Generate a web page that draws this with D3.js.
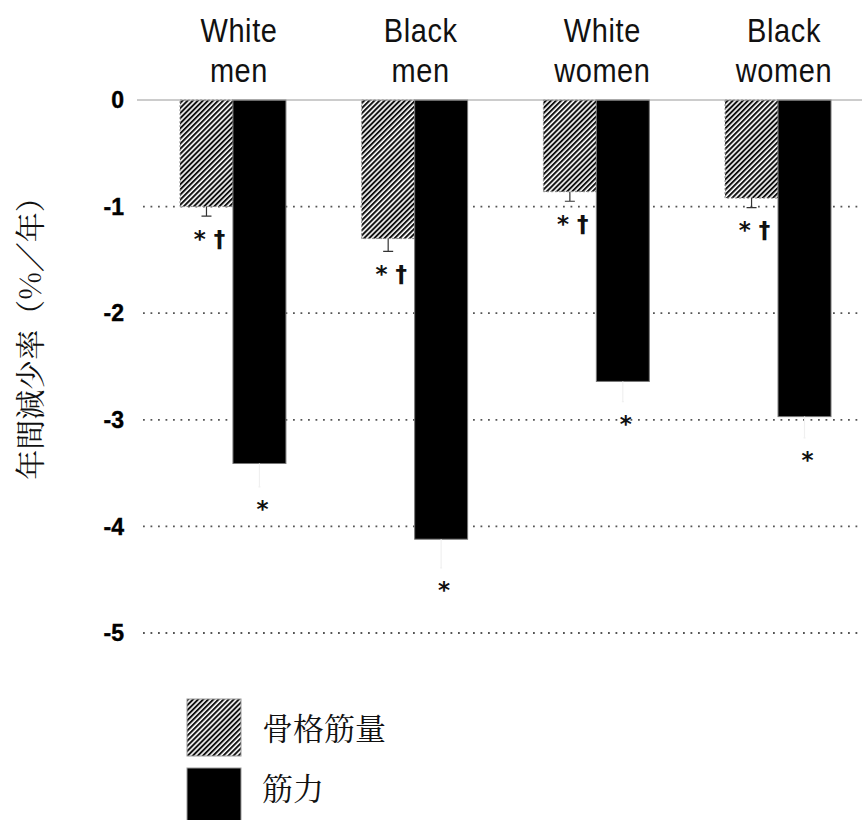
<!DOCTYPE html>
<head>
    <meta charset="utf-8">
    <title>年間減少率</title>
    <script src="https://cdn.jsdelivr.net/npm/d3@7"></script>
    <style>
        body { margin: 0; background: #fff; }
        svg { display: block; }
    </style>
</head>
<body>
<div id="container"></div>

<script>

// Données (% par an)
const groupes = [["White", "men"], ["Black", "men"], ["White", "women"], ["Black", "women"]];
const series = ["骨格筋量", "筋力"];
const masseMusc = [-1.00, -1.30, -0.86, -0.92];
const masseMuscErr = [0.09, 0.12, 0.09, 0.09];
const force = [-3.41, -4.12, -2.64, -2.97];
const forceErr = [0.22, 0.27, 0.19, 0.20];
const notesMasse = ["* †", "* †", "* †", "* †"];
const notesForce = ["*", "*", "*", "*"];
const yTicks = [0, -1, -2, -3, -4, -5];

const width = 862;
const height = 820;

const svg = d3.select("#container")
              .append("svg")
              .attr("width", width)
              .attr("height", height);

// Motif hachuré pour la masse musculaire
const defs = svg.append("defs");
defs.append("pattern")
    .attr("id", "hachures")
    .attr("patternUnits", "userSpaceOnUse")
    .attr("width", 3.6)
    .attr("height", 3.6)
    .attr("patternTransform", "rotate(45)")
    .call(p => {
        p.append("rect").attr("width", 3.6).attr("height", 3.6).attr("fill", "#fff");
        p.append("line")
         .attr("x1", 1).attr("y1", 0).attr("x2", 1).attr("y2", 3.6)
         .attr("stroke", "#111").attr("stroke-width", 2);
    });

const data = groupes.map((g, i) => ({
    nom: g.join(" "),
    lignes: g,
    valeurs: [
        { serie: series[0], v: masseMusc[i], err: masseMuscErr[i], note: notesMasse[i] },
        { serie: series[1], v: force[i], err: forceErr[i], note: notesForce[i] }
    ]
}));

// Échelles
const x0 = d3.scaleBand()
             .domain(data.map(d => d.nom))
             .range([180, 831])
             .paddingInner(0.417)
             .paddingOuter(0);

const x1 = d3.scaleBand()
             .domain(series)
             .range([0, x0.bandwidth()])
             .padding(0);

const y = d3.scaleLinear()
            .domain([-5, 0])
            .range([633, 100]);

// Lignes de grille pointillées
svg.append("g")
   .selectAll("line")
   .data(yTicks.filter(t => t !== 0))
   .enter().append("line")
   .attr("x1", 143).attr("x2", width)
   .attr("y1", d => y(d)).attr("y2", d => y(d))
   .attr("stroke", "#555")
   .attr("stroke-width", 1.8)
   .attr("stroke-dasharray", "1.8,5.7");

// Étiquettes de l'axe y
svg.append("g")
   .selectAll("text")
   .data(yTicks)
   .enter().append("text")
   .attr("x", 124)
   .attr("y", d => y(d))
   .attr("dy", "0.36em")
   .attr("text-anchor", "end")
   .attr("font-family", "'Liberation Sans', Arial, sans-serif")
   .attr("font-weight", "bold")
   .attr("font-size", 23)
   .attr("stroke", "#000")
   .attr("stroke-width", 0.4)
   .text(d => d);

// Titre de l'axe y
svg.append("text")
   .attr("transform", "translate(30,331) rotate(-90)")
   .attr("text-anchor", "middle")
   .attr("dy", "0.35em")
   .attr("font-family", "'Noto Serif CJK JP', 'Noto Sans CJK JP', serif")
   .attr("font-size", 30)
   .attr("fill", "#111")
   .text("年間減少率（%／年）");

// Barres
const grp = svg.append("g")
               .selectAll(".groupe")
               .data(data)
               .enter().append("g")
               .attr("class", "groupe")
               .attr("transform", d => `translate(${x0(d.nom)},0)`);

grp.selectAll("rect")
   .data(d => d.valeurs)
   .enter().append("rect")
   .attr("x", d => x1(d.serie))
   .attr("y", y(0))
   .attr("width", x1.bandwidth())
   .attr("height", d => y(d.v) - y(0))
   .attr("fill", (d, i) => i === 0 ? "url(#hachures)" : "#000")
   .attr("stroke", (d, i) => i === 0 ? "#888" : "#777")
   .attr("stroke-width", 1)
   .attr("stroke-dasharray", (d, i) => i === 0 ? "2,2" : null);

// Barres d'erreur (celles de la force sont presque invisibles)
grp.selectAll(".err")
   .data(d => d.valeurs)
   .enter().append("path")
   .attr("class", "err")
   .attr("fill", "none")
   .attr("stroke", (d, i) => i === 0 ? "#333" : "#f0f0f0")
   .attr("stroke-width", 1.2)
   .attr("d", (d, i) => {
       const cx = x1(d.serie) + x1.bandwidth() / 2;
       const cap = i === 0 ? 5 : 1;
       return `M${cx},${y(d.v)}V${y(d.v - d.err)}M${cx - cap},${y(d.v - d.err)}H${cx + cap}`;
   });

// Marques de significativité
grp.selectAll(".note")
   .data(d => d.valeurs)
   .enter().append("text")
   .attr("class", "note")
   .attr("x", d => x1(d.serie) + x1.bandwidth() / 2 + 3)
   .attr("y", d => y(d.v - d.err) + 20)
   .attr("dy", "0.45em")
   .attr("text-anchor", "middle")
   .attr("font-family", "'DejaVu Sans', sans-serif")
   .attr("font-weight", "bold")
   .attr("font-size", 23)
   .attr("fill", "#111")
   .text(d => d.note);

// Ligne du zéro
svg.append("line")
   .attr("x1", 137).attr("x2", width)
   .attr("y1", y(0)).attr("y2", y(0))
   .attr("stroke", "#999")
   .attr("stroke-width", 1.2);

// Noms des groupes en haut
const lab = svg.append("g")
               .selectAll("text")
               .data(data)
               .enter().append("text")
               .attr("transform", d => `translate(${x0(d.nom) + x0.bandwidth() / 2 + 6},0) scale(1,1.12)`)
               .attr("text-anchor", "middle")
               .attr("font-family", "Arimo, 'Liberation Sans', Arial, sans-serif")
               .attr("font-size", 29)
               .attr("letter-spacing", 0.6)
               .attr("fill", "#111");
lab.selectAll("tspan")
   .data(d => d.lignes)
   .enter().append("tspan")
   .attr("x", 0)
   .attr("y", (d, i) => i === 0 ? 37.5 : 73)
   .text(d => d);

// Légende
const leg = svg.append("g")
               .selectAll("g")
               .data(series)
               .enter().append("g")
               .attr("transform", (d, i) => `translate(187,${699 + i * 69})`);

leg.append("rect")
   .attr("width", 54)
   .attr("height", 57)
   .attr("fill", (d, i) => i === 0 ? "url(#hachures)" : "#000")
   .attr("stroke", "#999")
   .attr("stroke-width", 1);

leg.append("text")
   .attr("x", 75)
   .attr("y", (d, i) => i === 0 ? 30 : 21)
   .attr("dy", "0.35em")
   .attr("font-family", "'Noto Serif CJK JP', 'Noto Sans CJK JP', serif")
   .attr("font-size", 31)
   .attr("fill", "#111")
   .text(d => d);

</script>

</body>
